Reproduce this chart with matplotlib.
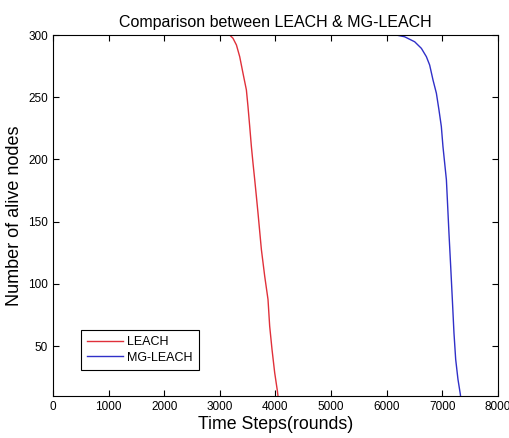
import numpy as np
import matplotlib.pyplot as plt

plt.rcParams['font.family'] = ['Liberation Sans', 'DejaVu Sans']

# values
leach_x = [3088, 3178, 3237, 3299, 3358, 3417, 3478, 3507, 3538, 3568, 3597,
           3628, 3658, 3687, 3748, 3808, 3867, 3897, 3939, 3987, 4036, 4060]
leach_y = [300, 300, 297.4, 292, 282.6, 269.3, 255.9, 242.5, 226.5, 210.4, 197.1,
           183.7, 170.3, 157, 127.6, 106.1, 87.5, 66.1, 47.4, 28.7, 13.9, 5]

mg_x = [6176, 6325, 6505, 6626, 6716, 6775, 6835, 6896, 6942, 6985, 7014,
        7045, 7076, 7092, 7122, 7153, 7183, 7212, 7243, 7284, 7327, 7340]
mg_y = [300, 298.6, 294.6, 289.3, 282.6, 275.9, 263.9, 253.2, 239.9, 226.5, 210.5,
        197.1, 183.7, 169, 141, 114.3, 87.5, 60.8, 39.4, 23.4, 11.3, 5]

fig = plt.figure(figsize=(5.1, 4.38), dpi=100)
ax = fig.add_axes([0.104, 0.096, 0.872, 0.824])

ax.plot(leach_x, leach_y, color='#e0303a', lw=1.0, label='LEACH')
ax.plot(mg_x, mg_y, color='#3030c8', lw=1.0, label='MG-LEACH')

ax.set_xlim(0, 8000)
ax.set_ylim(10, 300)
ax.set_xticks(np.arange(0, 8001, 1000))
ax.set_yticks([50, 100, 150, 200, 250, 300])
ax.tick_params(direction='in', top=True, right=True, labelsize=8.5, length=4)

ax.set_title('Comparison between LEACH & MG-LEACH', fontsize=11.5)
ax.set_xlabel('Time Steps(rounds)', fontsize=12.8, labelpad=2)
ax.set_ylabel('Number of alive nodes', fontsize=13)

leg = ax.legend(loc='lower left', bbox_to_anchor=(0.062, 0.072), fontsize=9,
                fancybox=False, framealpha=1, edgecolor='black',
                handlelength=2.9, handletextpad=0.3, borderpad=0.5,
                labelspacing=0.3, borderaxespad=0)
leg.get_frame().set_linewidth(0.8)

fig.savefig('out.png', dpi=100)
